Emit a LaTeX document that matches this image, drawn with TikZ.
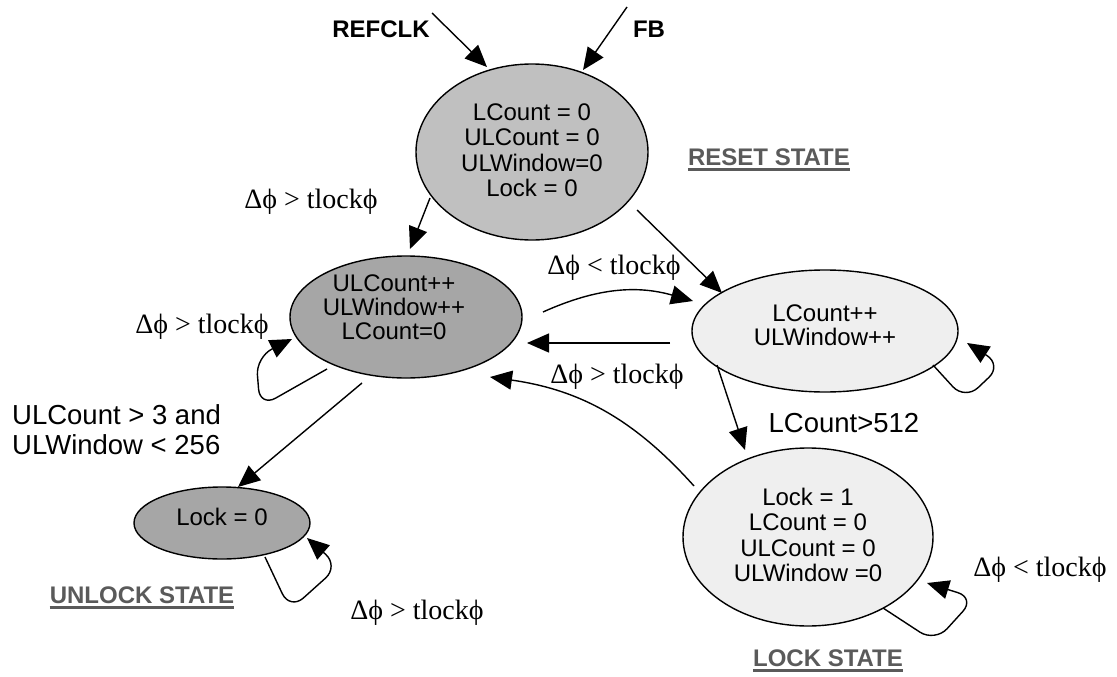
\documentclass[tikz,border=0pt]{standalone}
\usepackage{fontspec}
\setmainfont{Liberation Sans}
\newfontfamily\seriffont{Liberation Serif}
\usetikzlibrary{arrows.meta,calc,shapes.geometric}
\definecolor{resetfill}{HTML}{C0C0C0}
\definecolor{darkfill}{HTML}{A6A6A6}
\definecolor{lightfill}{HTML}{EFEFEF}
\definecolor{labelgray}{HTML}{5A5A5A}
\begin{document}
\begin{tikzpicture}[x=1pt,y=-1pt,
  stateshape/.style={ellipse,draw,line width=1.4pt,inner sep=0pt,outer sep=0pt},
  statetext/.style={align=center,inner sep=0pt,font=\fontsize{24}{25.5}\selectfont},
  condlabel/.style={inner sep=0pt,font=\seriffont\fontsize{28}{30}\selectfont},
  sanslabel/.style={inner sep=0pt,font=\fontsize{27.5}{30}\selectfont},
  boldlabel/.style={inner sep=0pt,font=\bfseries\fontsize{24}{26}\selectfont},
  statename/.style={boldlabel,text=labelgray},
  underl/.style={draw=labelgray,line width=3pt},
  arr/.style={line width=1.4pt,-{Triangle[length=22pt,width=19pt]}},
  selfloop/.style={arr,rounded corners=18pt},
]
\useasboundingbox (0,0) rectangle (1117,677);

% states
\node[stateshape,fill=resetfill,minimum width=232pt,minimum height=176pt] (reset) at (532,152) {};
\node[stateshape,fill=darkfill,minimum width=232pt,minimum height=122pt] (ul) at (406,317) {};
\node[stateshape,fill=lightfill,minimum width=266pt,minimum height=122pt] (right) at (825,331) {};
\node[stateshape,fill=lightfill,minimum width=250pt,minimum height=178pt] (lock) at (808,537) {};
\node[stateshape,fill=darkfill,minimum width=176pt,minimum height=72pt] (unlock) at (222,523) {};

% state contents
\node[statetext] (resettext) at (532,150) {LCount = 0\\ULCount = 0\\ULWindow=0\\Lock = 0};
\node[statetext,font=\fontsize{24}{24}\selectfont] (ultext) at (394,307) {ULCount++\\ULWindow++\\LCount=0};
\node[statetext,font=\fontsize{24}{24}\selectfont] (righttext) at (825,325) {LCount++\\ULWindow++};
\node[statetext] (locktext) at (808,535) {Lock = 1\\LCount = 0\\ULCount = 0\\ULWindow =0};
\node[statetext] (unlocktext) at (222,517) {Lock = 0};

% inputs
\coordinate (refclkstart) at (432,13);
\coordinate (fbstart) at (627,7);
\node[boldlabel] (refclk) at (381,29) {REFCLK};
\node[boldlabel] (fb) at (649,29) {FB};
\draw[arr] (refclkstart) -- ($(reset)+(-45,-85)$);
\draw[arr] (fbstart) -- ($(reset)+(51,-82)$);

% transitions
\draw[arr] ($(reset)+(-102,46)$) -- ($(ul)+(4,-68)$);
\draw[arr] ($(reset)+(105,58)$) -- ($(right)+(-103,-38)$);
\draw[arr] ($(ul)+(137,-5)$) to[bend left=20] ($(right)+(-132,-30)$);
\draw[arr] ($(right)+(-155,12)$) -- ($(ul)+(121,26)$);
\draw[arr] ($(lock)+(-114,-51)$) to[bend right=20] ($(ul)+(84,60)$);
\draw[arr] ($(right)+(-108,34)$) -- ($(lock)+(-63,-87)$);
\draw[arr] ($(ul)+(-44,66)$) -- ($(unlock)+(16,-36)$);

% self loops
\draw[selfloop] ($(ul)+(-79,52)$) -- ($(ul)+(-146,90)$) -- ($(ul)+(-150,40)$) -- ($(ul)+(-114,22)$);
\draw[selfloop] ($(right)+(108,34)$) -- ($(right)+(140,69)$) -- ($(right)+(177,34)$) -- ($(right)+(142,12)$);
\draw[selfloop] ($(lock)+(75,71)$) -- ($(lock)+(127,105)$) -- ($(lock)+(167,61)$) -- ($(lock)+(119,46)$);
\draw[selfloop] ($(unlock)+(43,34)$) -- ($(unlock)+(68,87)$) -- ($(unlock)+(117,43)$) -- ($(unlock)+(85,15)$);

% condition labels
\node[condlabel] (c1) at (311,202) {Δϕ > tlockϕ};
\node[condlabel] (c2) at (202,327) {Δϕ > tlockϕ};
\node[condlabel] (c3) at (614,268) {Δϕ < tlockϕ};
\node[condlabel] (c4) at (617,377) {Δϕ > tlockϕ};
\node[condlabel] (c5) at (417,613) {Δϕ > tlockϕ};
\node[condlabel] (c6) at (1040,570) {Δϕ < tlockϕ};
\node[sanslabel] (c7) at (844,423) {LCount>512};
\node[sanslabel,align=left,anchor=west,font=\fontsize{27.5}{30}\selectfont] (c8) at (12,430) {ULCount > 3 and\\ULWindow < 256};

% state names
\node[statename] (rsname) at (769,157) {RESET STATE};
\node[statename] (lsname) at (828,658) {LOCK STATE};
\node[statename] (usname) at (142,595) {UNLOCK STATE};
\draw[underl] ($(rsname.base west)+(0,4)$) -- ($(rsname.base east)+(0,4)$);
\draw[underl] ($(lsname.base west)+(0,4)$) -- ($(lsname.base east)+(0,4)$);
\draw[underl] ($(usname.base west)+(0,4)$) -- ($(usname.base east)+(0,4)$);
\end{tikzpicture}
\end{document}
